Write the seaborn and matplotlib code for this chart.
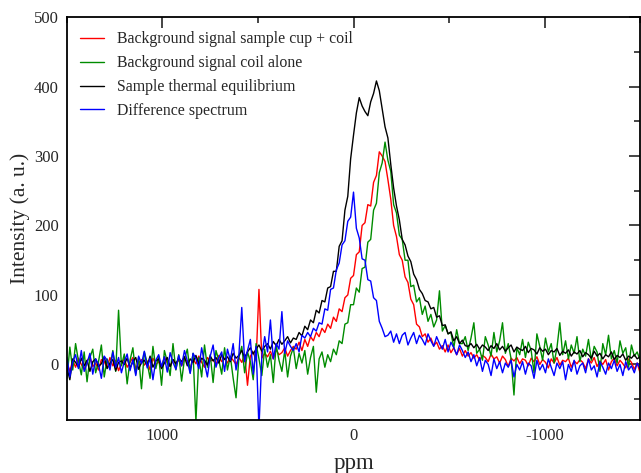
import numpy as np
import pandas as pd
import matplotlib
matplotlib.use("Agg")
import matplotlib.pyplot as plt
import seaborn as sns
from matplotlib.ticker import MultipleLocator

# chemical shift grid, 1500 -> -1500 ppm in steps of 15
ppm = np.arange(1500, -1501, -15)

cup_coil = [
    3, -10, 6, -4, 9, 0, -7, 5, 11, -3, 2, -8, 7, 4, -5, 10, -2, 6, -9, 1,
    8, -4, 3, 10, -6, 2, 7, -1, 5, -8, 9, 0, 4, -5, 11, 2, -3, 7, 1, 6,
    -2, 9, 4, -6, 8, 1, 12, 3, -4, 10, 5, 7, -1, 13, 4, 9, 2, 11, 6, 0,
    10, 3, 14, -30, 12, 18, 5, 108, 9, 16, 11, 19, 8, 21, 14, 17, 24, 12, 20, 26,
    22, 32, 20, 36, 26, 40, 34, 46, 40, 52, 46, 58, 52, 68, 62, 80, 76, 96, 100, 124,
    128, 158, 162, 200, 204, 230, 228, 262, 272, 306, 300, 292, 266, 238, 200, 184, 158, 150, 126, 118,
    94, 86, 58, 54, 40, 44, 32, 38, 27, 32, 22, 27, 18, 28, 17, 24, 14, 23, 12, 20,
    12, 17, 9, 14, 6, 13, 10, 4, 15, 8, 11, 2, 12, 7, -3, 9, 5, 10, 1, 8,
    6, -2, 9, 4, 11, 0, 7, 3, -5, 8, 2, 10, -1, 6, 4, 9, -4, 5, 1, 7,
    3, -6, 8, 2, 10, -3, 5, 0, 7, -8, 4, 9, -2, 6, 1, -5, 8, 3, -7, 2, -12,
]

coil_alone = [
    -20, 25, -8, 30, 5, -15, 18, -25, 10, 22, -12, 4, 28, -18, 8, -5, 20, -10, 78, -2,
    15, -28, 6, 24, -14, 10, -35, 18, 2, -20, 26, -6, 12, -30, 20, 4, -16, 30, -8, 14,
    -24, 8, 22, -12, 16, -82, 10, -18, 28, -4, 14, -26, 20, 6, -14, 24, -8, 12, -20, -48,
    10, 26, -12, 18, 4, -22, 30, 8, -16, 22, -4, 14, -26, 28, 6, -10, 20, -18, 12, 24,
    -6, 16, 2, 20, -14, 10, 26, -40, 8, 18, -4, 14, 4, 22, 14, 34, 30, 58, 60, 86,
    86, 110, 104, 138, 140, 176, 180, 222, 232, 276, 290, 320, 294, 278, 230, 218, 186, 180, 150, 150,
    112, 114, 90, 96, 72, 84, 62, 72, 54, 64, 106, 48, 56, 44, 46, 24, 50, 30, 30, 40,
    20, 38, 60, 16, 22, 6, 40, 28, 12, 46, 18, 34, 60, 16, 30, 8, -44, 24, 14, 36,
    10, 32, 20, -12, 44, 26, 6, 38, 18, 30, 2, 24, 60, 14, 34, 8, 28, 16, 40, 4,
    22, 12, 36, 6, 26, 18, -10, 30, 14, 42, 8, 20, 2, 34, 16, 24, -4, 28, 12, 18, 6,
]

thermal_eq = [
    -5, -22, 8, 3, -4, 9, -2, 6, -10, 4, 8, -3, 1, 11, -6, 2, 7, -9, 3, 5,
    0, 9, -5, 4, 10, -7, 3, 6, -2, 12, -4, 5, 8, -6, 2, 10, -3, 7, 1, 9,
    4, 11, -2, 8, 3, 13, 0, 9, 6, -1, 12, 5, 10, 2, 14, 7, 11, 4, 16, 9,
    13, 20, 10, 18, 24, 15, 22, 28, 19, 26, 30, 22, 33, 27, 36, 29, 34, 40, 31, 38,
    36, 46, 41, 55, 50, 64, 60, 78, 74, 92, 90, 110, 112, 134, 134, 170, 178, 222, 242, 296,
    330, 362, 384, 372, 364, 358, 378, 390, 408, 394, 368, 342, 326, 288, 254, 228, 208, 180, 172, 156,
    148, 130, 122, 108, 102, 92, 90, 80, 82, 68, 70, 56, 57, 44, 47, 34, 40, 30, 35, 27,
    26, 30, 24, 29, 22, 28, 25, 20, 27, 23, 30, 21, 26, 19, 24, 28, 18, 25, 22, 20,
    26, 17, 23, 21, 15, 24, 19, 22, 14, 20, 18, 23, 13, 19, 16, 21, 12, 18, 15, 20,
    11, 17, 14, 9, 19, 12, 16, 8, 14, 11, 18, 7, 13, 10, 15, 6, 12, 9, 14, 8, 11,
]

difference = [
    10, -18, 4, 14, -6, 20, -10, 2, 16, -14, 8, 0, -20, 12, 6, -8, 18, -4, 10, -12,
    4, 15, -9, 7, -16, 12, 1, 19, -5, 9, -22, 6, 14, -3, 11, -11, 17, 3, -7, 13,
    -2, 20, 5, -13, 16, 8, -6, 24, 2, -18, 12, 28, -4, 10, 18, -10, 22, 6, 30, -8,
    14, 82, 4, 20, 36, -14, 26, -92, 12, 40, 18, 64, 8, 30, 22, 76, 16, 34, 26, 20,
    30, 18, 42, 38, 46, 40, 52, 48, 60, 58, 80, 78, 108, 110, 136, 146, 172, 178, 206, 212,
    248, 196, 182, 152, 150, 122, 120, 96, 92, 62, 52, 40, 42, 48, 32, 44, 30, 42, 46, 28,
    38, 46, 30, 42, 36, 28, 44, 34, 26, 40, 30, 22, 36, 18, 32, 24, 14, 28, 20, 10,
    18, 4, 14, -2, 10, -10, 6, 0, -16, 8, -6, 4, -12, 2, -4, 6, -18, 0, -8, 4,
    -14, 2, -2, -20, 6, -8, 0, -12, 8, -4, -16, 2, -6, 4, -22, 0, -10, 6, -14, -2,
    2, -12, 8, -8, -2, -18, 4, -4, -14, 2, -6, 6, -10, 0, -16, 4, -8, -2, -12, 2, -6,
]

labels = ["Background signal sample cup + coil", "Background signal coil alone",
          "Sample thermal equilibrium", "Difference spectrum"]
colors = ["#ff0000", "#008c00", "#000000", "#0000ff"]

frames = []
for lab, vals in zip(labels, [cup_coil, coil_alone, thermal_eq, difference]):
    frames.append(pd.DataFrame({"ppm": ppm, "intensity": vals, "series": lab}))
df = pd.concat(frames, ignore_index=True)

sns.set_style("white")
plt.rcParams['font.family'] = ['Liberation Serif', 'DejaVu Serif']
plt.rcParams['axes.unicode_minus'] = False

fig = plt.figure(figsize=(6.41, 4.73), dpi=100)
ax = fig.add_axes([0.1045, 0.112, 0.894, 0.852])

sns.lineplot(data=df, x="ppm", y="intensity", hue="series", hue_order=labels,
             palette=dict(zip(labels, colors)), sort=False, estimator=None,
             linewidth=1.0, ax=ax)

ax.set_xlim(1500, -1500)
ax.set_ylim(-80, 500)
ax.xaxis.set_major_locator(MultipleLocator(1000))
ax.xaxis.set_minor_locator(MultipleLocator(500))
ax.yaxis.set_major_locator(MultipleLocator(100))
ax.yaxis.set_minor_locator(MultipleLocator(50))
ax.tick_params(which="both", direction="in", top=True, right=True, labelsize=12, width=1.2)
ax.tick_params(which="major", length=8, pad=6)
ax.tick_params(which="minor", length=4.5)
for s in ax.spines.values():
    s.set_linewidth(1.3)
    s.set_color("black")

ax.set_xlabel("ppm", fontsize=16.5, labelpad=6)
ax.set_ylabel("Intensity (a. u.)", fontsize=15.5, labelpad=2.5)

leg = ax.legend(loc="upper left", frameon=False, fontsize=11.4, handlelength=1.5,
                handletextpad=0.8, labelspacing=0.5, borderaxespad=0.5,
                bbox_to_anchor=(-0.002, 1.0))
for h in leg.get_lines():
    h.set_linewidth(1.0)

fig.savefig("out.png", dpi=100)
